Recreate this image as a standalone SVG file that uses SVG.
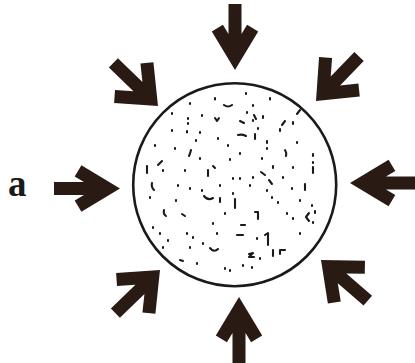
<svg xmlns="http://www.w3.org/2000/svg" width="415" height="363" viewBox="0 0 415 363">
<defs>
<style>
.arr{fill:#2a1a14}
.sp{fill:none;stroke:#1a1a1a;stroke-width:2.1;stroke-linecap:round;stroke-linejoin:round}
.lbl{font-family:"Liberation Serif","Times New Roman",serif;font-weight:bold;font-size:37px;fill:#1a1a1a}
</style>
<polygon id="straight" class="arr" points="0,0 -38.6,-23.2 -45.3,-12.1 -36,-6.5 -66,-6.5 -66,6.5 -36,6.5 -45.3,12.1 -38.6,23.2"/>
<polygon id="diag" class="arr" points="0,0 -33.7,-28.3 -42.1,-18.3 -27.9,-6.5 -62,-6.5 -62,6.5 -27.9,6.5 -42.1,18.3 -33.7,28.3"/>
</defs>
<rect width="415" height="363" fill="#ffffff"/>
<g id="sphere">
<circle cx="234.7" cy="184.7" r="101.5" fill="#ffffff" stroke="#1a1a1a" stroke-width="2.6"/>
<path class="sp" d="M215,98v1.5 M224,105q4,3 8,0 M246,93v1 M253,105v1 M190,103v1 M247,112v1 M254,115l2,4 M270,98v1.5 M172,113v1 M188,118v1 M188,123v1 M202,115v1 M215,118l2,3l2,-3 M240,121l4,2 M253,120v1 M263,116v2 M282,125l3,-4 M293,122v2 M172,130v1 M187,131v1.5 M200,132v1 M218,138v1 M238,135q4,-1 8,1 M255,134v5 M267,141v2 M267,148v1 M297,142v1 M280,129v2 M155,145v1 M175,148v1 M191,150q-1,4 -2,6 M200,158v1 M230,159v1 M240,153v1 M313,154v2 M158,165l4,-4 M147,166v7 M163,170v1 M208,170v6 M213,166l2,2 M233,178v1 M240,178v1 M253,177v1 M261,172l4,3 M273,166v2 M283,177v1 M293,167v1 M313,167v6 M313,162v1 M152,183q-1,4 2,7 M178,185v1 M190,188v1 M202,190v1 M220,185v1 M233,193v1 M250,185v1 M267,190v1 M269,180l3,4 M292,188v1 M305,184v6 M150,197v1 M204,196q4,5 9,2 M220,198v4 M235,199v9 M272,197v1 M278,202v1 M164,210q-1,4 2,6 M182,214l3,2 M213,223v1 M225,213v1 M241,225h4 M255,212h3v7 M287,213v1 M293,218v1 M309,213l-3,4l3,4 M315,211v2 M153,227v1 M187,233v1 M193,237v1 M217,233v1 M237,235h6 M257,238v1 M265,235l3,-2v12 M280,254v-4h5 M300,233v1 M313,222v1 M312,205v1 M163,247v1 M190,247v1 M210,248q4,5 8,1 M249,254l4,-1l-4,4h5 M260,258v1 M197,263v1 M225,268v1 M230,270v1 M243,265v1 M252,267v1 M273,250v6 M160,233v1 M168,240v1 M203,243v1 M176,200v1 M185,170v1 M262,158v1 M285,150q2,3 1,6 M300,200v1 M196,140v1 M228,145v1 M180,260l3,1 M258,128v1 M300,110l-3,4"/>
</g>
<g id="connectors">
<use href="#straight" transform="translate(235,70) rotate(90)"/>
<use href="#straight" transform="translate(120,188.5)"/>
<use href="#straight" transform="translate(350,183) rotate(180)"/>
<use href="#straight" transform="translate(239,297) rotate(-90)"/>
<use href="#diag" transform="translate(158,106) rotate(44)"/>
<use href="#diag" transform="translate(316,101) rotate(134)"/>
<use href="#diag" transform="translate(160,270) rotate(-44)"/>
<use href="#diag" transform="translate(321,260) rotate(-139)"/>
</g>
<g id="label-a">
<text class="lbl" x="8" y="196">a</text>
</g>
</svg>
